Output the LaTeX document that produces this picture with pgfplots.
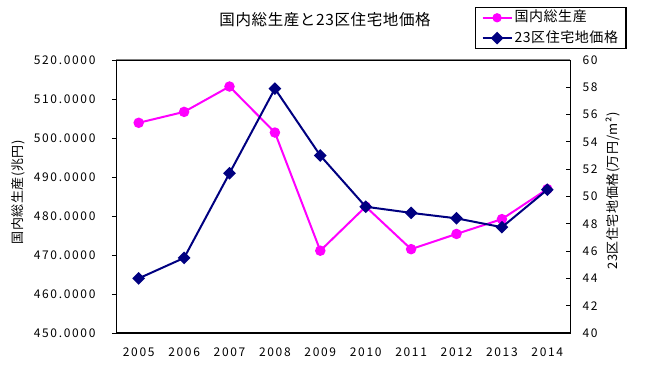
\documentclass[border=0pt]{standalone}
\usepackage{fontspec}
\setmainfont{Noto Sans CJK JP}
\newfontfamily\numf[LetterSpace=14]{Noto Sans CJK JP}
\newfontfamily\jpf[LetterSpace=4]{Noto Sans CJK JP}
\usepackage{pgfplots}
\usepackage{pgfplotstable}
\pgfplotsset{compat=1.18}
\definecolor{mag}{RGB}{255,0,255}
\definecolor{navy}{RGB}{0,0,128}
\definecolor{topgray}{RGB}{128,128,128}

\pgfplotstableread{
x gdp land
0 503.9 44.0
1 506.7 45.5
2 513.2 51.7
3 501.4 57.9
4 471.1 53.0
5 482.4 49.25
6 471.5 48.8
7 475.4 48.4
8 479.2 47.75
9 486.9 50.5
}\data

\begin{document}
\begin{tikzpicture}
\path[use as bounding box] (0,0) rectangle (650bp,380bp);
\begin{axis}[
  at={(116bp,47bp)}, anchor=south west,
  scale only axis, width=454bp, height=273bp,
  xmin=-0.5, xmax=9.5, ymin=450, ymax=520,
  axis line style={black, line width=1bp},
  xtick={0,...,9},
  xticklabels={2005,2006,2007,2008,2009,2010,2011,2012,2013,2014},
  major x tick style={draw=none},
  xtick pos=left, ytick pos=left,
  ytick={450,460,...,520},
  tick align=outside,
  major tick length=4bp,
  tick style={black, line width=1bp},
  /pgf/number format/.cd, fixed, fixed zerofill, precision=4, 1000 sep={}, assume math mode=true,
  /pgfplots/.cd,
  xticklabel style={font=\numf\fontsize{12bp}{14bp}\selectfont, yshift=-7bp},
  yticklabel style={font=\numf\fontsize{12bp}{14bp}\selectfont, xshift=-13bp},
  title={国内総生産と23区住宅地価格},
  title style={at={(axis description cs:0.4604,1.1253)}, anchor=center, font=\jpf\fontsize{15.5bp}{18bp}\selectfont},
  ylabel={国内総生産(兆円)},
  every axis y label/.style={at={(axis description cs:-0.2159,0.5147)}, anchor=center, rotate=90, font=\jpf\fontsize{13bp}{15bp}\selectfont},
]
\addplot[mag, line width=2bp, mark=*, mark size=4.2bp, mark options={solid, fill=mag, draw=mag}] table[x=x, y=gdp] {\data};
\end{axis}
\begin{axis}[
  at={(116bp,47bp)}, anchor=south west,
  scale only axis, width=454bp, height=273bp,
  xmin=-0.5, xmax=9.5, ymin=40, ymax=60,
  axis x line*=bottom, axis y line*=right,
  axis line style={-, black, line width=1bp},
  xtick=\empty,
  minor xtick={0.5,1.5,...,8.5},
  minor tick length=4bp,
  ytick={40,42,...,60},
  tick align=inside,
  major tick length=4bp,
  tick style={black, line width=1bp},
  /pgf/number format/assume math mode=true,
  yticklabel style={font=\numf\fontsize{12bp}{14bp}\selectfont, xshift=9bp},
  ylabel={23区住宅地価格(万円/m²)},
  every axis y label/.style={at={(axis description cs:1.0947,0.520)}, anchor=center, rotate=90, font=\jpf\fontsize{13bp}{15bp}\selectfont},
  legend image code/.code={\draw[mark repeat=2,mark phase=2,#1] plot coordinates {(0bp,0bp) (14.5bp,0bp) (29bp,0bp)};},
  legend style={at={(axis description cs:0.7907,1.194)}, anchor=north west,
    draw=black, line width=1.2bp, inner xsep=6bp, inner ysep=0bp,
    font=\jpf\fontsize{14bp}{16bp}\selectfont,
    nodes={inner xsep=2bp, inner ysep=0bp, text height=11bp, text depth=3bp, minimum height=20.3bp, line width=2bp},
    row sep=0bp},
  legend cell align=left,
]
\draw[topgray, line width=1bp] (rel axis cs:0,1) -- (rel axis cs:1,1);
\addlegendimage{mag, line width=2bp, mark=*, mark size=3.6bp, mark options={solid, fill=mag, draw=mag}}
\addlegendentry{国内総生産}
\addplot[navy, line width=2bp, mark=square*, mark size=3.5bp, mark options={solid, rotate=45, fill=navy, draw=navy}] table[x=x, y=land] {\data};
\addlegendentry{23区住宅地価格}
\end{axis}
\end{tikzpicture}
\end{document}
